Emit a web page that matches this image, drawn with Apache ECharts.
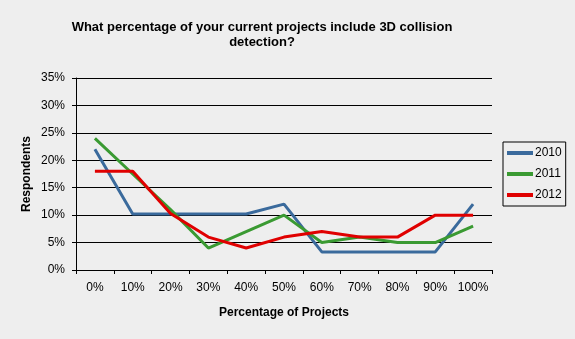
<!DOCTYPE html>
<html>
<head>
<meta charset="utf-8">
<script src="https://cdn.jsdelivr.net/npm/echarts@6/dist/echarts.min.js"></script>
<style>
html,body{margin:0;padding:0;background:#eeeeee;}
#chart{width:575px;height:339px;}
</style>
</head>
<body>
<div id="chart"></div>
<script>
const categories = ['0%','10%','20%','30%','40%','50%','60%','70%','80%','90%','100%'];
const s2010 = [22, 10.2, 10.2, 10.2, 10.2, 12, 3.3, 3.3, 3.3, 3.3, 12];
const s2011 = [24, 17.5, 11, 4, 7, 10, 5, 6, 5, 5, 8];
const s2012 = [18, 18, 10.3, 6, 4, 6, 7, 6, 6, 10, 10];
const seriesNames = ['2010','2011','2012'];
const colors = ['#3a6a9c','#3a9a32','#e00000'];
const titleText = 'What percentage of your current projects include 3D collision\ndetection?';

const chart = echarts.init(document.getElementById('chart'), null, {renderer:'canvas'});
const font = 'Liberation Sans, Arial, sans-serif';
chart.setOption({
  backgroundColor: '#eeeeee',
  animation: false,
  title: {
    text: titleText,
    left: 257, top: 15, textAlign: 'center',
    textStyle: {fontFamily: font, fontSize: 13, fontWeight: 'bold', color: '#000', lineHeight: 15}
  },
  legend: {
    orient: 'vertical',
    left: 503, top: 142,
    width: 64,
    padding: [5, 4, 5, 4],
    borderColor: '#000', borderWidth: 1,
    backgroundColor: '#eeeeee',
    icon: 'rect', itemWidth: 26, itemHeight: 4, itemGap: 9,
    textStyle: {fontFamily: font, fontSize: 12, color: '#000', padding: [0,0,0,-3]},
    data: seriesNames
  },
  grid: {left: 76, right: 83, top: 78, bottom: 69, containLabel: false},
  xAxis: {
    type: 'category', data: categories, boundaryGap: true,
    name: 'Percentage of Projects', nameLocation: 'middle', nameGap: 37,
    nameTextStyle: {fontFamily: font, fontSize: 12, fontWeight: 'bold', color: '#000'},
    axisLine: {lineStyle: {color: '#000', width: 1}},
    axisTick: {show: true, interval: 0, alignWithLabel: false, length: 4, inside: false, lineStyle: {color: '#000'}},
    axisLabel: {interval: 0, fontFamily: font, fontSize: 12, color: '#000', margin: 12},
    splitLine: {show: false}
  },
  yAxis: {
    type: 'value', min: 0, max: 35, interval: 5,
    name: 'Respondents', nameLocation: 'middle', nameGap: 43, nameRotate: 90,
    nameMoveOverlap: false,
    nameTextStyle: {fontFamily: font, fontSize: 12, fontWeight: 'bold', color: '#000'},
    axisLine: {show: true, lineStyle: {color: '#000', width: 1}},
    axisTick: {show: true, length: 4, lineStyle: {color: '#000'}},
    axisLabel: {fontFamily: font, fontSize: 12, color: '#000', margin: 11, formatter: v => v + '%'},
    splitLine: {show: true, lineStyle: {color: '#000', width: 1}}
  },
  series: [
    {name: seriesNames[0], type: 'line', data: s2010, symbol: 'none', lineStyle: {width: 3, color: colors[0]}, itemStyle: {color: colors[0]}},
    {name: seriesNames[1], type: 'line', data: s2011, symbol: 'none', lineStyle: {width: 3, color: colors[1]}, itemStyle: {color: colors[1]}},
    {name: seriesNames[2], type: 'line', data: s2012, symbol: 'none', lineStyle: {width: 3, color: colors[2]}, itemStyle: {color: colors[2]}}
  ]
});
</script>
</body>
</html>
